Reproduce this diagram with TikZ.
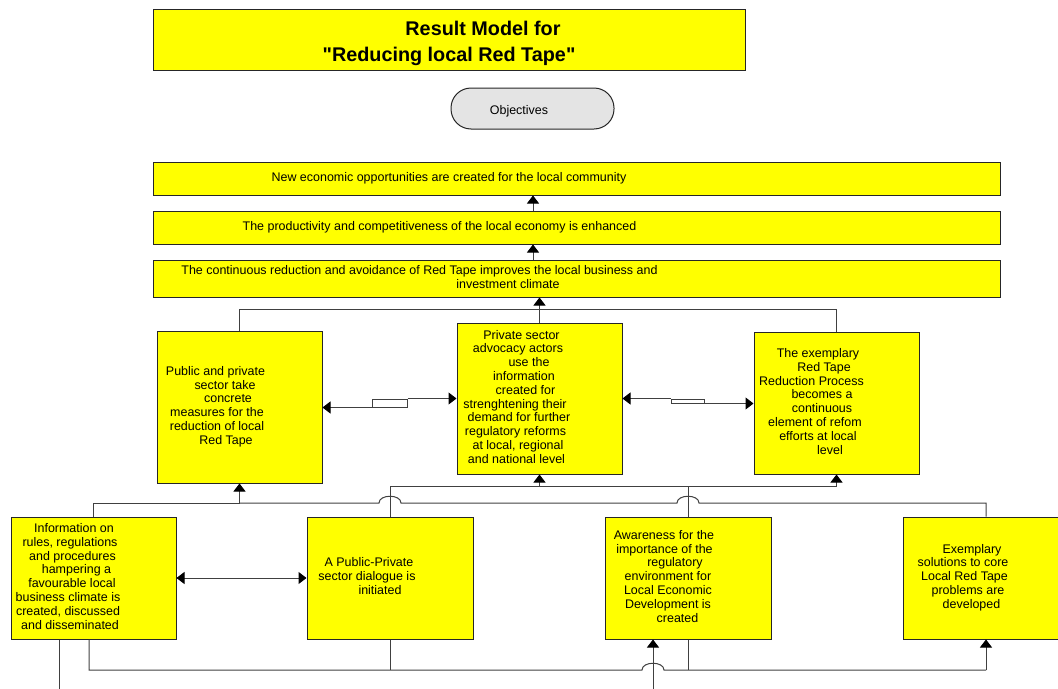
\documentclass[tikz,border=0pt]{standalone}
\usepackage{fontspec}
\setmainfont{Liberation Sans}
\usetikzlibrary{arrows.meta,calc}
\definecolor{ln}{HTML}{404040}
\definecolor{bd}{HTML}{262626}
\definecolor{yel}{HTML}{FFFF00}
\definecolor{objfill}{HTML}{E4E4E4}
\newcommand\bodyfont{\fontsize{9.35pt}{10.35pt}\selectfont}
\newcommand\titlefont{\fontsize{14.85pt}{19.5pt}\selectfont\bfseries}
\newcommand\tl[2]{\begin{tabular}{@{}c@{}}#2\end{tabular}\hspace*{#1}}
\newcommand\pre[1]{\hspace*{#1pt}}
\newcommand\suf[1]{\hspace*{#1pt}}
\begin{document}
\begin{tikzpicture}[x=0.75pt,y=-0.75pt,
  bx/.style 2 args={minimum width=#1*0.75pt, minimum height=#2*0.75pt},
  ybox/.style={draw=bd, fill=yel, line width=0.75pt, inner sep=0pt, font=\bodyfont},
  conn/.style={draw=ln, line width=0.75pt},
  arr/.style={conn, -{Triangle[length=6pt,width=9pt,color=black]}},
  darr/.style={conn, {Triangle[length=6pt,width=9pt,color=black]}-{Triangle[length=6pt,width=9pt,color=black]}},
  linkbox/.style={draw=ln, fill=white, line width=0.75pt, inner sep=0pt}]
\useasboundingbox (0,0) rectangle (1058,689);
\clip (0,0) rectangle (1058,689);

% title and legend
\node[ybox, bx={592}{61}, font=\titlefont] (title) at (449,39.5)
  {\raisebox{-3pt}[\height][\depth]{\begin{tabular}{@{}c@{}}\hspace*{51pt}Result Model for\\\textquotedbl Reducing local Red Tape\textquotedbl\end{tabular}}};
\node[draw=bd, fill=objfill, line width=0.75pt, rounded corners=15pt, bx={163}{41}, inner sep=0pt, font=\bodyfont] (obj) at (532.5,108.5) {\raisebox{-2pt}[\height][\depth]{Objectives}\hspace*{20.25pt}};

% objectives
\node[ybox, bx={847}{33}] (o1) at (576.5,178.5)
  {\tl{191.25pt}{New economic opportunities are created for the local community}};
\node[ybox, bx={847}{33}] (o2) at (576.5,227.5)
  {\tl{205.5pt}{The productivity and competitiveness of the local economy is enhanced}};
\node[ybox, bx={847}{37}] (o3) at (576.5,278.5)
  {\tl{235.5pt}{The continuous reduction and avoidance of Red Tape improves the local business and\\\hspace*{132.75pt}investment climate}};

% middle row
\node[ybox, bx={165}{152}] (A) at (239.5,407)
  {\tl{30pt}{Public and private\suf{6}\\\pre{8.25}sector take\\\pre{12.75}concrete\\measures for the\suf{3.75}\\reduction of local\suf{3.75}\\\pre{9.75}Red Tape}};
\node[ybox, bx={165}{151}] (B) at (539.5,398.5)
  {\tl{30.75pt}{\pre{3.75}Private sector\\advocacy actors\suf{1.5}\\\pre{15}use the\\\pre{7.5}information\\\pre{9.75}created for\\strenghtening their\suf{6}\\demand for further\\regulatory reforms\suf{5.25}\\at local, regional\suf{1.5}\\and national level\suf{3.75}}};
\node[ybox, bx={165}{142}] (C) at (836.5,403)
  {\tl{27.75pt}{The exemplary\\\pre{9}Red Tape\\Reduction Process\suf{9.75}\\\pre{6}becomes a\\\pre{6}continuous\\element of refom\suf{4.5}\\efforts at local\\\pre{18}level}};

% bottom row
\node[ybox, bx={165}{122}] (D) at (93.5,578)
  {\tl{35.25pt}{\pre{6}Information on\\rules, regulations\\\pre{3.75}and procedures\\\pre{9.75}hampering a\\\pre{3}favourable local\\business climate is\suf{3}\\created, discussed\suf{3}\\and disseminated}};
\node[ybox, bx={166}{122}] (E) at (390,578)
  {\tl{28.5pt}{A Public-Private\suf{3}\\sector dialogue is\suf{6}\\\pre{13.5}initiated}};
\node[ybox, bx={166}{122}] (F) at (688,578)
  {\tl{30pt}{Awareness for the\suf{6}\\importance of the\suf{5.25}\\\pre{10.5}regulatory\\environment for\\Local Economic\\Development is\\\pre{14.25}created}};
\node[ybox, bx={166}{122}] (G) at (986,578)
  {\tl{27pt}{\pre{6}Exemplary\\solutions to core\suf{7.5}\\Local Red Tape\suf{5.25}\\problems are\\\pre{5.25}developed}};

% helper coordinates
\coordinate (ax) at (533,0);
\coordinate (T1) at (0,309);
\coordinate (L1) at (0,503);
\coordinate (L2) at (0,486);
\coordinate (L3) at (0,670);
\coordinate (d2) at (89,0);
\coordinate (in1) at (653,689);
\coordinate (out1) at (59,689);

% objective chain
\draw[arr] (o2.north -| ax) -- (o1.south -| ax);
\draw[arr] (o3.north -| ax) -- (o2.south -| ax);
\draw[arr] (B.north) -- (o3.south -| B.north);
\draw[conn] (A.north) |- (C.north |- T1) -- (C.north);

% links between middle boxes
\node[linkbox, bx={35}{8}] (k1) at (389.5,403) {};
\draw[arr] (k1.south west) -- (A.east |- k1.south);
\draw[arr] (k1.north east) -- (B.west |- k1.north);
\node[linkbox, bx={33}{4}] (k2) at (687.5,401) {};
\draw[arr] (k2.north west) -- (B.east |- k2.north);
\draw[arr] (k2.south east) -- (C.west |- k2.south);

\draw[darr] (D.east) -- (E.west);

% level L1
\draw[conn] (D.north) |- (A.south |- L1);
\draw[arr] (A.south |- L1) -- (A.south);
\draw[conn] (G.north) |- ($(F.north |- L1)+(11,0)$)
  .. controls +(0,-9) and +(0,-9) .. ($(F.north |- L1)+(-11,0)$)
  -- ($(E.north |- L1)+(11,0)$)
  .. controls +(0,-9) and +(0,-9) .. ($(E.north |- L1)+(-11,0)$)
  -- (A.south |- L1);

% level L2
\draw[conn] (E.north) |- (C.south |- L2);
\draw[arr] (C.south |- L2) -- (C.south);
\draw[arr] (B.south |- L2) -- (B.south);
\draw[conn] (F.north) -- (F.north |- L2);

% level L3
\draw[conn] (D.south -| d2) |- ($(in1 |- L3)+(-11,0)$)
  .. controls +(0,-9) and +(0,-9) .. ($(in1 |- L3)+(11,0)$)
  -- (G.south |- L3);
\draw[arr] (G.south |- L3) -- (G.south);
\draw[conn] (E.south) -- (E.south |- L3);
\draw[conn] (F.south) -- (F.south |- L3);
\draw[arr] (in1) -- (in1 |- F.south);
\draw[conn] (D.south -| out1) -- (out1);
\end{tikzpicture}
\end{document}
